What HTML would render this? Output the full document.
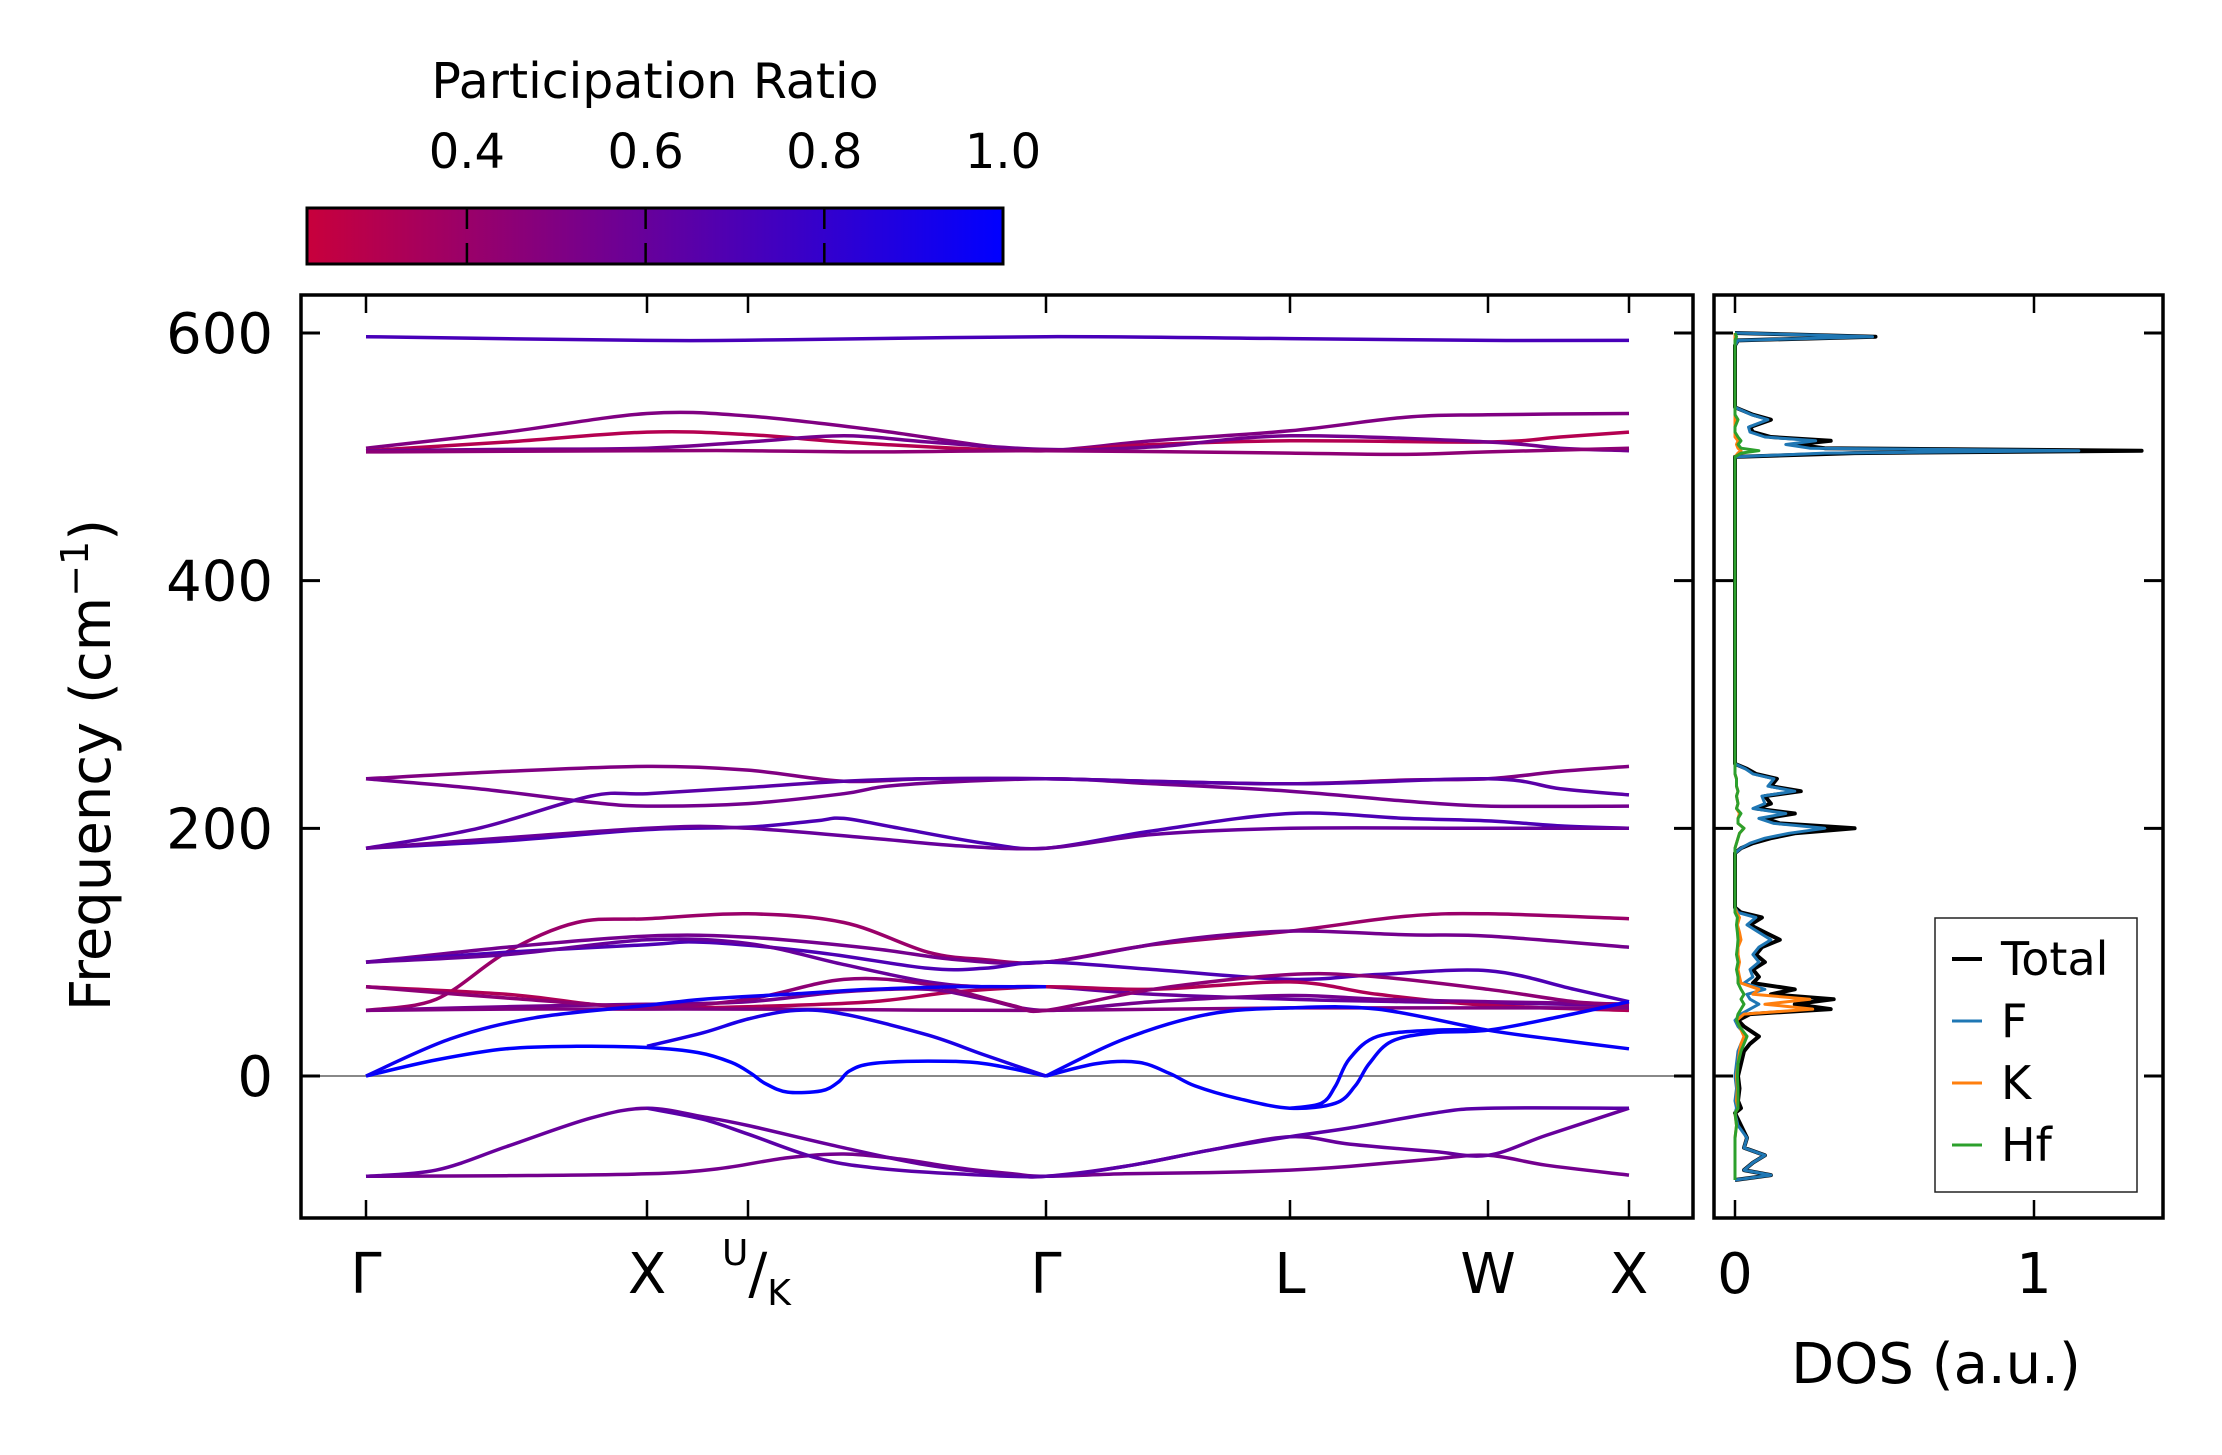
<!DOCTYPE html>
<html><head><meta charset="utf-8"><style>
html,body{margin:0;padding:0;background:#fff;}
svg{display:block;font-family:"DejaVu Sans","Liberation Sans",sans-serif;}
</style></head><body>
<svg id="fig" width="2222" height="1455" viewBox="0 0 2222 1455" xmlns="http://www.w3.org/2000/svg">
<defs>
<linearGradient id="cmap" x1="0" x2="1" y1="0" y2="0">
<stop offset="0" stop-color="#c8003c"/><stop offset="1" stop-color="#0000ff"/>
</linearGradient>
<clipPath id="mainclip"><rect x="301" y="295" width="1392" height="923"/></clipPath>
<clipPath id="dosclip"><rect x="1714" y="295" width="449" height="923"/></clipPath>
</defs>
<g>
<text x="655" y="98" font-size="49" text-anchor="middle">Participation Ratio</text>
<rect x="307" y="208" width="696" height="56" fill="url(#cmap)" stroke="#000" stroke-width="3"/>
<g id="cbticks"></g>
</g>
<g id="main">
<line x1="301" x2="1693" y1="1076" y2="1076" stroke="#888" stroke-width="2"/>
<g id="bands" clip-path="url(#mainclip)"></g>
<rect x="301" y="295" width="1392" height="923" fill="none" stroke="#000" stroke-width="3.5"/>
<g id="mainticks"></g>
<text transform="translate(110,765) rotate(-90)" font-size="56" text-anchor="middle">Frequency (cm<tspan dy="-22" font-size="38">−1</tspan><tspan dy="22">)</tspan></text>
</g>
<g id="dos">
<g id="doslines" clip-path="url(#dosclip)"></g>
<rect x="1714" y="295" width="449" height="923" fill="none" stroke="#000" stroke-width="3.5"/>
<g id="dosticks"></g>
<text x="1936" y="1383" font-size="56" text-anchor="middle">DOS (a.u.)</text>
<g>
<rect x="1935" y="918" width="202" height="274" fill="#fff" stroke="#222" stroke-width="1.5"/>
<g id="legendentries"></g>
</g>
</g>
</svg>
<script>
// ---- band structure data ----
const kLabels = ["Γ","X","U/K","Γ","L","W","X"];
const kTicks = [0, 1, 1.359, 2.42, 3.288, 3.993, 4.495];
const yTicks = [0, 200, 400, 600];
const cbTicks = [0.4, 0.6, 0.8, 1.0];
const bandTop = [[0,597],[1,594],[1.5,594.5],[2.42,597],[3.288,595.5],[3.993,594],[4.495,594]];
const bandH1 = [[0,507],[0.5,520],[1,535],[1.359,533],[1.8,522],[2.2,509],[2.42,505],[2.8,513],[3.288,521],[3.7,532],[3.993,534],[4.495,535]];
const bandH2 = [[0,505],[0.5,512],[1,520],[1.359,518],[1.7,512],[2.1,507],[2.42,505],[2.8,510],[3.288,513],[3.993,512],[4.25,516],[4.495,520]];
const bandH3 = [[0,505],[0.5,506],[1,507],[1.359,512],[1.7,517],[2.0,512],[2.42,506],[2.8,508],[3.288,517],[3.993,512],[4.25,507],[4.495,505]];
const bandH4 = [[0,504],[1,505],[1.359,505],[1.8,504],[2.42,505],[3.288,503],[3.7,502],[3.993,504],[4.495,507]];
const bandM1 = [[0,240],[0.5,246],[1,250],[1.359,247],[1.7,238],[2.0,240],[2.42,240],[2.8,238],[3.288,236],[3.7,239],[3.993,240],[4.25,246],[4.495,250]];
const bandM2 = [[0,240],[0.4,232],[0.8,221],[1,218],[1.359,220],[1.7,228],[1.9,235],[2.42,240],[2.8,236],[3.288,230],[3.7,222],[3.993,218],[4.495,218]];
const bandM3 = [[0,184],[0.4,200],[0.8,226],[1,228],[1.359,233],[1.7,238],[2.0,240],[2.42,240],[3.288,236],[3.993,240],[4.25,232],[4.495,227]];
const bandM4 = [[0,184],[0.5,190],[1,199],[1.359,201],[1.6,206],[1.7,208],[1.9,200],[2.2,188],[2.42,184],[2.8,198],[3.288,212],[3.7,208],[3.993,206],[4.25,202],[4.495,200]];
const bandM5 = [[0,184],[1,200],[1.359,200],[1.8,192],[2.1,186],[2.42,184],[2.8,195],[3.288,200],[3.993,200],[4.495,200]];
const bandO1 = [[0,53],[0.25,62],[0.5,100],[0.75,124],[1,127],[1.359,131],[1.7,124],[2.0,100],[2.2,94],[2.42,92],[2.8,106],[3.288,117],[3.7,129],[3.993,131],[4.495,127]];
const bandO3 = [[0,92],[0.5,104],[1,113],[1.359,112],[1.8,103],[2.1,94],[2.42,92],[2.9,110],[3.288,117],[3.7,114],[3.993,113],[4.495,104]];
const bandO4 = [[0,92],[0.5,100],[1,106],[1.2,108],[1.6,100],[2.0,87],[2.2,87],[2.42,92],[2.8,86],[3.288,78],[3.6,82],[3.993,85],[4.3,70],[4.495,60]];
const bandO5 = [[0,92],[0.5,98],[1,110],[1.359,107],[1.7,90],[2.0,76],[2.2,72],[2.42,72],[2.8,66],[3.288,62],[3.7,60],[3.993,59],[4.495,57]];
const bandO6 = [[0,72],[0.5,66],[0.8,58],[1,55],[1.359,56],[1.8,60],[2.1,68],[2.42,72],[2.8,70],[3.288,76],[3.6,66],[3.993,57],[4.495,53]];
const bandO7 = [[0,53],[0.5,56],[1,58],[1.359,60],[1.7,68],[2.0,70],[2.2,62],[2.42,53],[2.8,60],[3.288,65],[3.6,62],[3.993,60],[4.495,58]];
const bandO8 = [[0,53],[0.5,54],[1,54],[1.359,54],[2.42,53],[3.288,55],[3.993,55],[4.495,55]];
const bandO9 = [[0,72],[0.5,63],[1,56],[1.359,62],[1.7,78],[2.0,74],[2.3,57],[2.42,53],[2.8,70],[3.288,82],[3.6,80],[3.993,70],[4.3,60],[4.495,58]];
const bandA1 = [[0,0],[0.25,13],[0.5,22],[0.75,24],[1,23],[1.18,19],[1.3,11],[1.37,2],[1.42,-6],[1.5,-13],[1.62,-12],[1.68,-5],[1.72,4],[1.8,10],[2.0,12],[2.2,10],[2.42,0]];
const bandA1R = [[2.42,0],[2.6,10],[2.75,11],[2.86,2],[2.95,-8],[3.1,-18],[3.288,-26],[3.45,-22],[3.52,-8],[3.57,10],[3.65,28],[3.8,35],[3.993,37],[4.25,48],[4.495,60]];
const bandA1S = [[3.288,-26],[3.4,-22],[3.45,-8],[3.5,14],[3.6,32],[3.8,37],[3.993,37]];
const bandA2 = [[1,24],[1.2,35],[1.359,46],[1.53,53],[1.7,50],[2.0,33],[2.2,17],[2.42,0]];
const bandA2L = [[0,0],[0.3,30],[0.6,47],[1,57],[1.2,62],[1.5,66],[1.8,70],[2.1,72],[2.42,72]];
const bandA3 = [[2.42,0],[2.7,30],[3.0,50],[3.288,55],[3.6,54],[3.993,37],[4.25,29],[4.495,22]];
const bandC1 = [[0,-81],[0.5,-80.5],[1,-79],[1.25,-75],[1.5,-66],[1.7,-63],[1.9,-67],[2.1,-74],[2.3,-79],[2.42,-81],[2.7,-79],[3.0,-78],[3.288,-76],[3.5,-73],[3.8,-67],[3.993,-64],[4.2,-72],[4.495,-80]];
const bandC2 = [[0,-81],[0.25,-76],[0.5,-57],[0.8,-34],[1,-26],[1.2,-33],[1.359,-40],[1.7,-58],[2.0,-72],[2.3,-80],[2.42,-81],[2.7,-73],[3.0,-60],[3.288,-49],[3.5,-55],[3.8,-61],[3.993,-64],[4.2,-48],[4.495,-26]];
const bandC3 = [[1,-26],[1.2,-35],[1.36,-47],[1.6,-66],[1.8,-74],[2.1,-79],[2.42,-81],[2.7,-73],[3.0,-60],[3.288,-49],[3.5,-42],[3.8,-30],[3.993,-26],[4.495,-26]];
const bandList = [bandTop,bandH1,bandH2,bandH3,bandH4,bandM1,bandM2,bandM3,bandM4,bandM5,bandO1,bandO3,bandO4,bandO5,bandO6,bandO7,bandO8,bandO9,bandA1,bandA1R,bandA1S,bandA2,bandA2L,bandA3,bandC1,bandC2,bandC3];
const bandPR = [0.72,0.5,0.3,0.55,0.45,0.5,0.55,0.65,0.7,0.6,0.4,0.55,0.7,0.6,0.32,0.55,0.5,0.45,1.0,0.98,0.98,0.9,0.95,0.97,0.55,0.6,0.65];

// ---- DOS data ----
const dosFreq = [-84,-80,-76,-70,-64,-58,-50,-40,-30,-26,-20,-10,0,10,20,26,32,40,45,50,54,58,62,66,70,75,80,86,92,98,104,110,116,122,128,132,136,180,184,188,192,196,200,204,208,212,216,220,226,230,234,240,244,248,252,500,503,505,507,510,513,516,520,524,530,534,538,540,590,594,597,600];
const dosTotal = [0,0.12,0.03,0.06,0.1,0.03,0.04,0.02,0,0.02,0.01,0.015,0.01,0.02,0.03,0.05,0.08,0.03,0.01,0.05,0.32,0.2,0.33,0.12,0.2,0.06,0.08,0.06,0.1,0.07,0.09,0.15,0.1,0.05,0.09,0.02,0,0,0.02,0.06,0.12,0.2,0.4,0.15,0.1,0.2,0.07,0.12,0.1,0.22,0.12,0.14,0.07,0.04,0,0,0.4,1.36,0.3,0.2,0.32,0.12,0.06,0.05,0.12,0.06,0.02,0,0,0.01,0.47,0];
const dosF = [0,0.12,0.03,0.06,0.1,0.03,0.04,0.01,0,0.005,0,0.005,0,0.005,0.01,0.02,0.04,0.01,0,0.02,0.05,0.08,0.05,0.04,0.1,0.03,0.06,0.05,0.08,0.06,0.08,0.12,0.08,0.04,0.07,0.01,0,0,0.02,0.05,0.1,0.18,0.3,0.13,0.08,0.17,0.06,0.1,0.09,0.2,0.11,0.13,0.06,0.035,0,0,0.3,1.15,0.25,0.17,0.27,0.1,0.05,0.045,0.11,0.055,0.018,0,0,0.01,0.46,0];
const dosK = [0,0,0,0,0,0,0,0.005,0,0.01,0.005,0.008,0.005,0.01,0.015,0.02,0.03,0.015,0.005,0.03,0.26,0.1,0.25,0.06,0.08,0.02,0.015,0.01,0.015,0.01,0.01,0.02,0.015,0.008,0.015,0.005,0,0,0,0.005,0.01,0.015,0.03,0.01,0.01,0.015,0.005,0.01,0.005,0.01,0.005,0.005,0,0,0,0,0.01,0.02,0.01,0.005,0.01,0,0,0,0,0,0,0,0,0,0,0];
const dosHf = [0,0,0,0,0,0,0,0.005,0,0.01,0.01,0.01,0.008,0.01,0.02,0.03,0.04,0.015,0.005,0.01,0.02,0.03,0.02,0.03,0.02,0.01,0.01,0.005,0.01,0.005,0.008,0.01,0.008,0.005,0.008,0,0,0,0,0.005,0.01,0.015,0.03,0.01,0.01,0.02,0.005,0.01,0.005,0.01,0.005,0.005,0,0,0,0,0.02,0.08,0.02,0.01,0.02,0.01,0,0,0.01,0,0,0,0,0,0.005,0];
const dosSeries = ["Total","F","K","Hf"];
const dosColors = ["#000000","#1f77b4","#ff7f0e","#2ca02c"];

const NS = "http://www.w3.org/2000/svg";
const kPix = [366,647,748,1046,1290,1488,1629];
function xK(k){
  for(let i=0;i<kTicks.length-1;i++){ if(k<=kTicks[i+1]||i===kTicks.length-2){ const t=(k-kTicks[i])/(kTicks[i+1]-kTicks[i]); return kPix[i]+t*(kPix[i+1]-kPix[i]); } }
}
function yF(f){ return 1076 - f*1.2383; }
function xD(d){ return 1735 + d*299; }
function cmapColor(v){ const t=Math.max(0,Math.min(1,(v-0.221)/0.779)); const r=Math.round(200*(1-t)), b=Math.round(60+195*t); return `rgb(${r},0,${b})`; }
function mk(tag,attrs,parent){ const e=document.createElementNS(NS,tag); for(const a in attrs) e.setAttribute(a,attrs[a]); parent.appendChild(e); return e; }
function smoothPath(pts){
  let d=`M${pts[0][0].toFixed(1)},${pts[0][1].toFixed(1)}`;
  for(let i=0;i<pts.length-1;i++){
    const p0=pts[Math.max(0,i-1)],p1=pts[i],p2=pts[i+1],p3=pts[Math.min(pts.length-1,i+2)];
    const c1=[p1[0]+(p2[0]-p0[0])/6,p1[1]+(p2[1]-p0[1])/6], c2=[p2[0]-(p3[0]-p1[0])/6,p2[1]-(p3[1]-p1[1])/6];
    d+=`C${c1[0].toFixed(1)},${c1[1].toFixed(1)} ${c2[0].toFixed(1)},${c2[1].toFixed(1)} ${p2[0].toFixed(1)},${p2[1].toFixed(1)}`;
  }
  return d;
}
const bandsG=document.getElementById('bands');
bandList.forEach((b,i)=>{
  const p=mk('path',{d:smoothPath(b.map(q=>[xK(q[0]),yF(q[1])])),fill:'none',stroke:cmapColor(bandPR[i]),'stroke-width':3.5,'stroke-linejoin':'round'},bandsG);
  
  
});
const mt=document.getElementById('mainticks');
yTicks.forEach(v=>{
  const y=yF(v);
  mk('line',{x1:301,x2:320,y1:y,y2:y,stroke:'#000','stroke-width':3},mt);
  mk('line',{x1:1674,x2:1693,y1:y,y2:y,stroke:'#000','stroke-width':3},mt);
  const t=mk('text',{x:273,y:y+20,'font-size':56,'text-anchor':'end'},mt); t.textContent=v;
  
  
});
kTicks.forEach((k,i)=>{
  const x=xK(k);
  mk('line',{x1:x,x2:x,y1:295,y2:313,stroke:'#000','stroke-width':2.5},mt);
  mk('line',{x1:x,x2:x,y1:1200,y2:1218,stroke:'#000','stroke-width':2.5},mt);
  let t;
  if(kLabels[i]==="U/K"){
    t=mk('text',{x:x-26,y:1293,'font-size':56},mt);
    const s1=mk('tspan',{'font-size':36,dy:-28},t); s1.textContent="U";
    const s2=mk('tspan',{dy:28},t); s2.textContent="/";
    const s3=mk('tspan',{'font-size':36,dy:12},t); s3.textContent="K";
  } else {
    t=mk('text',{x:x,y:1293,'font-size':56,'text-anchor':'middle'},mt); t.textContent=kLabels[i];
  }
  
  
});
const cb=document.getElementById('cbticks');
cbTicks.forEach(v=>{
  const x=307+(v-0.221)/0.779*696;
  if(v<1){ mk('line',{x1:x,x2:x,y1:208,y2:229,stroke:'#000','stroke-width':2.5},cb); mk('line',{x1:x,x2:x,y1:243,y2:264,stroke:'#000','stroke-width':2.5},cb); }
  const t=mk('text',{x:x,y:168,'font-size':48,'text-anchor':'middle'},cb); t.textContent=v.toFixed(1);
  
  
});
const dl=document.getElementById('doslines');
[dosTotal,dosF,dosK,dosHf].forEach((s,i)=>{
  const pts=s.map((v,j)=>`${xD(v).toFixed(1)},${yF(dosFreq[j]).toFixed(1)}`).join(' ');
  const p=mk('polyline',{points:pts,fill:'none',stroke:dosColors[i],'stroke-width':i===0?4:3,'stroke-linejoin':'round'},dl);
  
  
});
const dt=document.getElementById('dosticks');
yTicks.forEach(v=>{
  const y=yF(v);
  mk('line',{x1:1714,x2:1733,y1:y,y2:y,stroke:'#000','stroke-width':3},dt);
  mk('line',{x1:2144,x2:2163,y1:y,y2:y,stroke:'#000','stroke-width':3},dt);
});
[0,1].forEach(v=>{
  const x=xD(v);
  mk('line',{x1:x,x2:x,y1:295,y2:313,stroke:'#000','stroke-width':2.5},dt);
  mk('line',{x1:x,x2:x,y1:1200,y2:1218,stroke:'#000','stroke-width':2.5},dt);
  const t=mk('text',{x:x,y:1293,'font-size':56,'text-anchor':'middle'},dt); t.textContent=v;
  
  
});
const le=document.getElementById('legendentries');
dosSeries.forEach((n,i)=>{
  const y=959+i*62;
  const g=mk('g',{},le);
  
  
  mk('line',{x1:1952,x2:1982,y1:y,y2:y,stroke:dosColors[i],'stroke-width':i===0?4:3},g);
  const t=mk('text',{x:2001,y:y+16,'font-size':46},g); t.textContent=n;
});
</script>
</body></html>
